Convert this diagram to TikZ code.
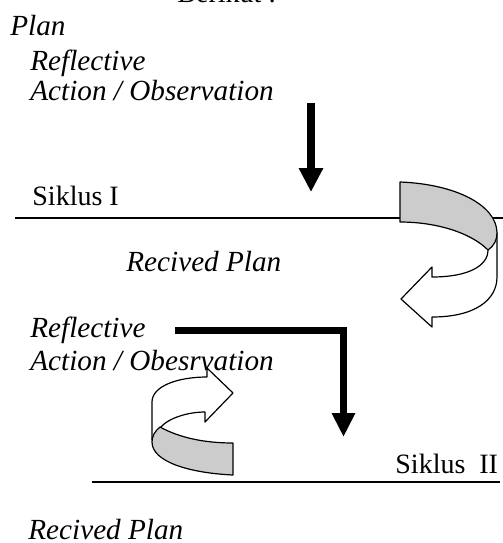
\documentclass[tikz,border=0pt]{standalone}
\usepackage{fontspec}
\setmainfont{Liberation Serif}
\usepackage{tikz}
\usetikzlibrary{arrows.meta}
\usetikzlibrary{calc}

\tikzset{
	lbl/.style={anchor=base west, inner sep=0pt, font=\fontsize{14}{16}\selectfont},
	ilbl/.style={lbl, font=\fontsize{14.6}{16}\selectfont\itshape},
	ribbon/.style={draw, line width=0.6pt, line join=round},
}

\begin{document}
\begin{tikzpicture}[x=0.5pt, y=-0.5pt]
\useasboundingbox (0,0) rectangle (503,543);

% texts
\node[lbl] (head) at (177,2) {Berikut :};
\node[ilbl] (plan) at (10,35) {Plan};
\node[ilbl] (refl1) at (30,70) {Reflective};
\node[ilbl] (act1) at (30,100) {Action / Observation};
\node[lbl] (sik1) at (32,205) {Siklus I};
\node[ilbl] (rec1) at (126,271) {Recived Plan};
\node[ilbl] (refl2) at (30,337) {Reflective};
\node[ilbl] (act2) at (30,370) {Action / Obesrvation};
\node[lbl] (sik2) at (395,473) {Siklus\ \ II};
\node[ilbl] (rec2) at (28,539) {Recived Plan};

% lines of the cycles
\coordinate (l1a) at (15,218);
\coordinate (l1b) at (503,218);
\coordinate (l2a) at (92,482);
\coordinate (l2b) at (500,482);
\draw[line width=0.7pt] (l1a) -- (l1b);
\draw[line width=0.7pt] (l2a) -- (l2b);

% straight arrows
\coordinate (a1s) at (311,103);
\coordinate (a1e) at (311,192);
\coordinate (a2s) at (175,330);
\coordinate (a2e) at (343.5,437);
\path[-{Triangle[length=12pt,width=11.5pt]}, line width=4pt]
(a1s) edge (a1e);
\draw[-{Triangle[length=12pt,width=11pt]}, line width=3.5pt, line join=miter]
(a2s) -| (a2e);

% ribbon arrow, first cycle
\filldraw[ribbon, fill=white]
(488,250) .. controls (488,266) and (468,277) .. (432,277) -- (432,267)
-- (401,299) -- (432,327) -- (432,317)
.. controls (475,317) and (497,300) .. (497,277) -- (497,233) -- cycle;
\filldraw[ribbon, fill=black!20]
(400,182) .. controls (455,184) and (497,205) .. (497,233)
.. controls (497,240) and (494,246) .. (488,250)
.. controls (470,232) and (435,222) .. (400,222) -- cycle;

% ribbon arrow, second cycle
\filldraw[ribbon, fill=white]
(207,377) -- (207,368) -- (233,393) -- (205,422) -- (205,412)
.. controls (188,412) and (168,418) .. (160,428) -- (152,440)
-- (152,402) .. controls (152,386) and (178,377) .. (207,377) -- cycle;
\filldraw[ribbon, fill=black!20]
(160,427) .. controls (180,438) and (205,443) .. (233,443) -- (233,475)
.. controls (190,473) and (152,462) .. (152,442)
.. controls (152,436) and (155,431) .. (160,427) -- cycle;
\end{tikzpicture}
\end{document}
